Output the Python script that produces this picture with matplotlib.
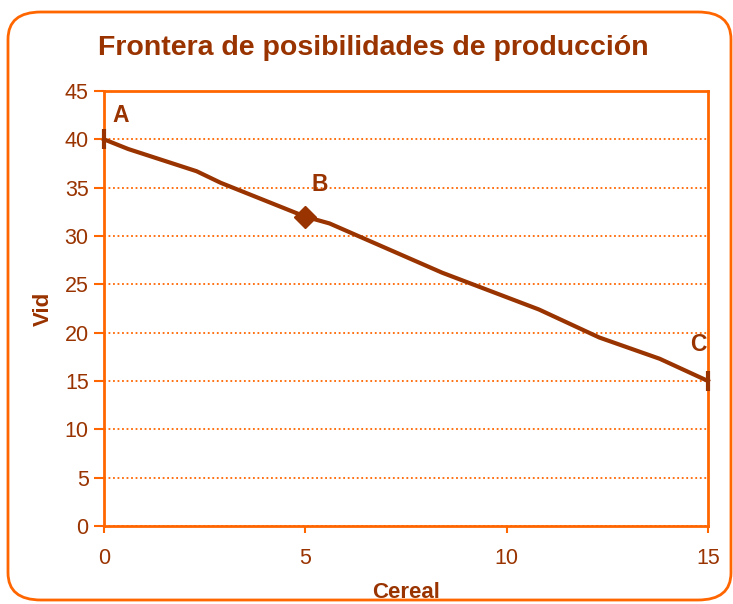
import matplotlib
matplotlib.use("Agg")
import matplotlib.pyplot as plt
from matplotlib.patches import FancyBboxPatch

plt.rcParams['font.family'] = ['Liberation Sans', 'DejaVu Sans']

cereal = [0, 0.6, 2.3, 2.9, 5, 5.6, 8.4, 10.8, 12.3, 13.8, 15]
vid = [40, 39, 36.7, 35.5, 32, 31.3, 26.2, 22.4, 19.5, 17.3, 15]
point_names = ["A", "B", "C"]
point_x = [0, 5, 15]
point_y = [40, 32, 15]
x_ticks = [0, 5, 10, 15]
y_ticks = [0, 5, 10, 15, 20, 25, 30, 35, 40, 45]

ORANGE = "#FF6600"
BROWN = "#993300"

fig = plt.figure(figsize=(7.33, 6.04), dpi=100)
border = FancyBboxPatch((8 / 733, 4 / 604), 723 / 733, 588 / 604,
                        boxstyle="round,pad=0,rounding_size=0.045",
                        transform=fig.transFigure, facecolor="white",
                        edgecolor=ORANGE, linewidth=2, zorder=-1)
fig.patches.append(border)

ax = fig.add_axes([104 / 733, 1 - 526 / 604, (708 - 104) / 733, (526 - 91) / 604])
ax.set_zorder(2)
ax.set_facecolor("none")

ax.plot(cereal, vid, color=BROWN, lw=3, solid_joinstyle="round", zorder=3, clip_on=False)
ax.plot(point_x[0], point_y[0], marker="|", ms=14, mew=3, color=BROWN, zorder=4, clip_on=False)
ax.plot(point_x[1], point_y[1], marker="D", ms=11, color=BROWN, zorder=4, clip_on=False)
ax.plot(point_x[2], point_y[2], marker="|", ms=14, mew=3, color=BROWN, zorder=4, clip_on=False)

offsets = [(0.42, 2.5), (0.35, 3.3), (-0.23, 3.8)]
for name, px, py, (dx, dy) in zip(point_names, point_x, point_y, offsets):
    ax.text(px + dx, py + dy, name, color=BROWN, fontsize=16.5, fontweight="bold",
            ha="center", va="center")

ax.set_xlim(0, 15)
ax.set_ylim(0, 45)
ax.set_xticks(x_ticks)
ax.set_yticks(y_ticks)
ax.tick_params(axis="both", colors=ORANGE, labelcolor=BROWN, labelsize=15.5, width=1.5)
ax.tick_params(axis="y", length=7, pad=4)
ax.tick_params(axis="x", length=5, pad=11)
for s in ax.spines.values():
    s.set_color(ORANGE)
    s.set_linewidth(2)

ax.yaxis.grid(True, color=ORANGE, linestyle=(0, (1, 1.5)), linewidth=1.3)
ax.set_axisbelow(True)

ax.set_xlabel("Cereal", color=BROWN, fontsize=16, fontweight="bold", labelpad=9)
ax.set_ylabel("Vid", color=BROWN, fontsize=16, fontweight="bold", labelpad=8)
fig.text(373 / 733, 1 - 48 / 604, "Frontera de posibilidades de producción",
         color=BROWN, fontsize=20.5, fontweight="bold", ha="center", va="center")

fig.savefig("out.png", dpi=100)
